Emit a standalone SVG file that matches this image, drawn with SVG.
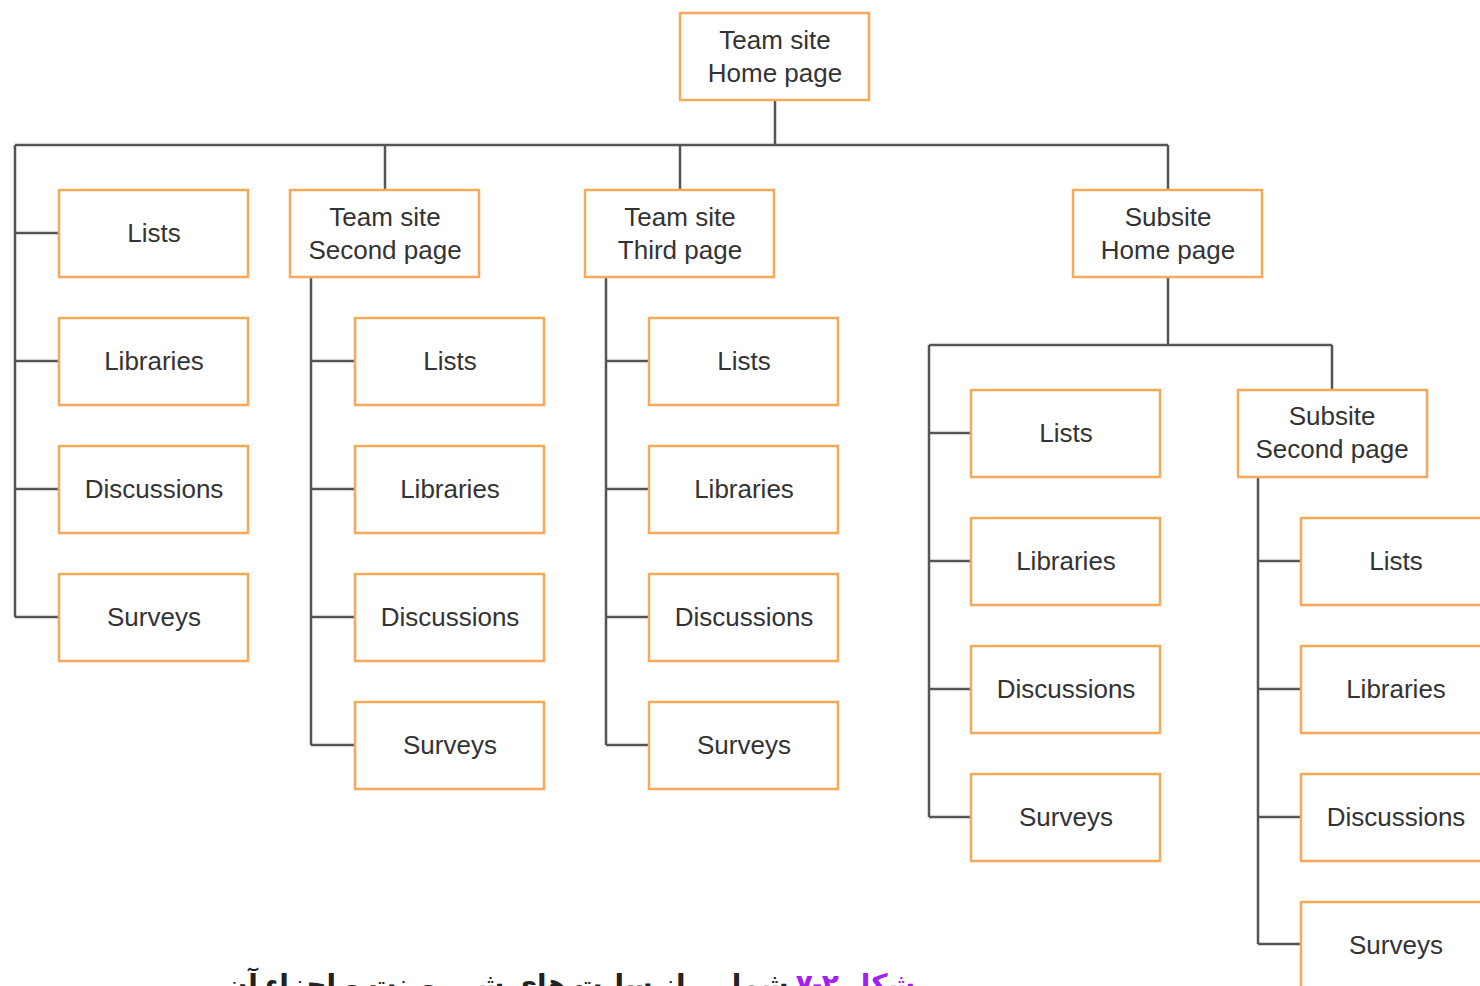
<svg xmlns="http://www.w3.org/2000/svg" width="1480" height="986" viewBox="0 0 1480 986">
<defs>
<style>
.b{fill:#fff;stroke:#f7a95a;stroke-width:2.5}
.t{font-family:"Liberation Sans",Arial,sans-serif;font-size:26px;fill:#333;text-anchor:middle}
.c{fill:none;stroke:#555;stroke-width:2.5}
.cap{font-family:"Noto Sans","DejaVu Sans",sans-serif;font-size:28px;font-weight:bold;fill:#222}
</style>
</defs>
<rect width="1480" height="986" fill="#fff"/>
<g id="connectors" class="c">
<path d="M775 100V145M15 145H1168M15 145V617M15 233H59M15 361H59M15 489H59M15 617H59"/>
<path d="M385 145V190M311 277V745M311 361H355M311 489H355M311 617H355M311 745H355"/>
<path d="M680 145V190M606 277V745M606 361H649M606 489H649M606 617H649M606 745H649"/>
<path d="M1168 145V190M1168 277V345M929 345H1332M929 345V817M929 433H971M929 561H971M929 689H971M929 817H971"/>
<path d="M1332 345V390M1258 477V944M1258 561H1301M1258 689H1301M1258 817H1301M1258 944H1301"/>
</g>
<g id="home"><rect class="b" x="680" y="13" width="189" height="87"/><text class="t" x="775" y="49">Team site</text><text class="t" x="775" y="82">Home page</text></g>
<g id="l-lists"><rect class="b" x="59" y="190" width="189" height="87"/><text class="t" x="154" y="242">Lists</text></g>
<g id="l-libraries"><rect class="b" x="59" y="318" width="189" height="87"/><text class="t" x="154" y="370">Libraries</text></g>
<g id="l-discussions"><rect class="b" x="59" y="446" width="189" height="87"/><text class="t" x="154" y="498">Discussions</text></g>
<g id="l-surveys"><rect class="b" x="59" y="574" width="189" height="87"/><text class="t" x="154" y="626">Surveys</text></g>
<g id="second"><rect class="b" x="290" y="190" width="189" height="87"/><text class="t" x="385" y="226">Team site</text><text class="t" x="385" y="259">Second page</text></g>
<g id="s-lists"><rect class="b" x="355" y="318" width="189" height="87"/><text class="t" x="450" y="370">Lists</text></g>
<g id="s-libraries"><rect class="b" x="355" y="446" width="189" height="87"/><text class="t" x="450" y="498">Libraries</text></g>
<g id="s-discussions"><rect class="b" x="355" y="574" width="189" height="87"/><text class="t" x="450" y="626">Discussions</text></g>
<g id="s-surveys"><rect class="b" x="355" y="702" width="189" height="87"/><text class="t" x="450" y="754">Surveys</text></g>
<g id="third"><rect class="b" x="585" y="190" width="189" height="87"/><text class="t" x="680" y="226">Team site</text><text class="t" x="680" y="259">Third page</text></g>
<g id="t-lists"><rect class="b" x="649" y="318" width="189" height="87"/><text class="t" x="744" y="370">Lists</text></g>
<g id="t-libraries"><rect class="b" x="649" y="446" width="189" height="87"/><text class="t" x="744" y="498">Libraries</text></g>
<g id="t-discussions"><rect class="b" x="649" y="574" width="189" height="87"/><text class="t" x="744" y="626">Discussions</text></g>
<g id="t-surveys"><rect class="b" x="649" y="702" width="189" height="87"/><text class="t" x="744" y="754">Surveys</text></g>
<g id="subhome"><rect class="b" x="1073" y="190" width="189" height="87"/><text class="t" x="1168" y="226">Subsite</text><text class="t" x="1168" y="259">Home page</text></g>
<g id="h-lists"><rect class="b" x="971" y="390" width="189" height="87"/><text class="t" x="1066" y="442">Lists</text></g>
<g id="h-libraries"><rect class="b" x="971" y="518" width="189" height="87"/><text class="t" x="1066" y="570">Libraries</text></g>
<g id="h-discussions"><rect class="b" x="971" y="646" width="189" height="87"/><text class="t" x="1066" y="698">Discussions</text></g>
<g id="h-surveys"><rect class="b" x="971" y="774" width="189" height="87"/><text class="t" x="1066" y="826">Surveys</text></g>
<g id="subsecond"><rect class="b" x="1238" y="390" width="189" height="87"/><text class="t" x="1332" y="425">Subsite</text><text class="t" x="1332" y="458">Second page</text></g>
<g id="ss-lists"><rect class="b" x="1301" y="518" width="189" height="87"/><text class="t" x="1396" y="570">Lists</text></g>
<g id="ss-libraries"><rect class="b" x="1301" y="646" width="189" height="87"/><text class="t" x="1396" y="698">Libraries</text></g>
<g id="ss-discussions"><rect class="b" x="1301" y="774" width="189" height="87"/><text class="t" x="1396" y="826">Discussions</text></g>
<g id="ss-surveys"><rect class="b" x="1301" y="902" width="189" height="87"/><text class="t" x="1396" y="954">Surveys</text></g>
<g id="caption"><text class="cap" x="915" y="994" direction="rtl" text-anchor="start"><tspan fill="#a020f0">شکل ۲-۷ </tspan>شمایی از سایت های شیرپوینت و اجزاء آن</text></g>
</svg>
